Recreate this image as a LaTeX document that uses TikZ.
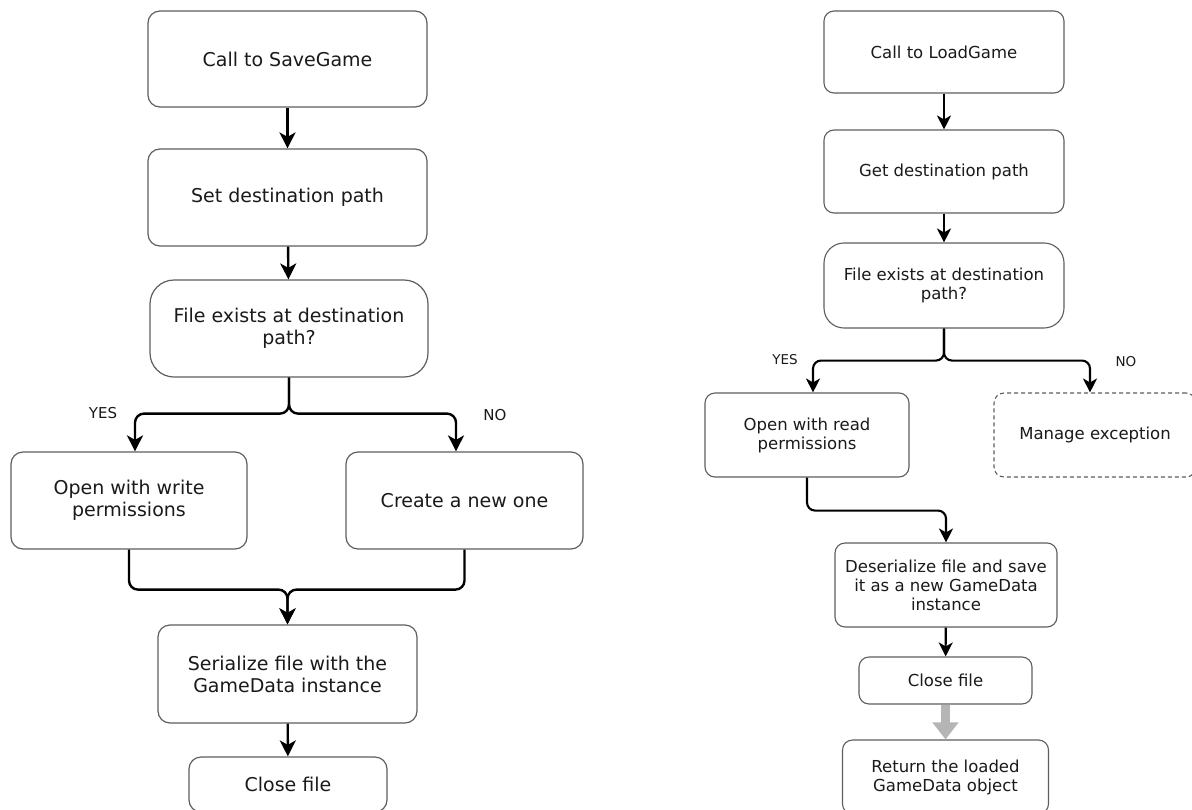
\documentclass[tikz,border=0pt]{standalone}
\usepackage{fontspec}
\setmainfont{DejaVu Sans}
\usetikzlibrary{arrows.meta}
\definecolor{boxline}{HTML}{5E5E5E}
\definecolor{txt}{HTML}{1A1A1A}
\definecolor{fatgray}{HTML}{B5B5B5}
\tikzset{
  bigbox/.style={draw=boxline, line width=1.2pt, rectangle, rounded corners=12pt,
    inner sep=0pt, align=center, text=txt,
    font=\fontsize{19}{22}\selectfont},
  smallbox/.style={draw=boxline, line width=1.1pt, rectangle, rounded corners=10pt,
    inner sep=0pt, align=center, text=txt,
    font=\fontsize{16.5}{19}\selectfont},
  bigarr/.style={draw=black, line width=2.4pt, rounded corners=9pt,
    -{Stealth[length=16pt,width=16pt,inset=4.5pt]}},
  smallarr/.style={draw=black, line width=2.1pt, rounded corners=8pt,
    -{Stealth[length=14pt,width=14pt,inset=4pt]}},
  biglabel/.style={text=txt, inner sep=0pt, font=\fontsize{15}{17}\selectfont},
  smalllabel/.style={text=txt, inner sep=0pt, font=\fontsize{13.5}{15}\selectfont},
}
\begin{document}
\begin{tikzpicture}[x=1pt, y=-1pt]
\useasboundingbox (0,0) rectangle (1192,809);
\clip (0,0) rectangle (1192,809);
\fill[white] (0,0) rectangle (1192,809);

% ---------- SaveGame flow ----------
\node[bigbox, minimum width=279pt, minimum height=96pt] (s1) at (287.5,59) {Call to SaveGame};
\node[bigbox, minimum width=279pt, minimum height=97pt] (s2) at (287.5,197.5) {Set destination path};
\node[bigbox, rounded corners=24pt, minimum width=278pt, minimum height=97pt] (s3) at (289,328.5) {File exists at destination\\path?};
\node[bigbox, minimum width=236pt, minimum height=97pt] (s4) at (129,500.5) {Open with write\\permissions};
\node[bigbox, minimum width=237pt, minimum height=97pt] (s5) at (464.5,500.5) {Create a new one};
\node[bigbox, minimum width=259pt, minimum height=98pt] (s6) at (287.5,674) {Serialize file with the\\GameData instance};
\node[bigbox, minimum width=198pt, minimum height=55pt] (s7) at (288,784.5) {Close file};

\node[biglabel] (yes1) at (103,413) {YES};
\node[biglabel] (no1) at (495,415) {NO};

\draw[bigarr] (s1) -- (s2);
\draw[bigarr] (s2) -- (s3);
\draw[bigarr] (s3.south) -- ++(0,36) -| ([xshift=6pt]s4.north);
\draw[bigarr] (s3.south) -- ++(0,36) -| ([xshift=-8.5pt]s5.north);
\draw[bigarr] (s4.south) -- ++(0,40) -| (s6.north);
\draw[bigarr] (s5.south) -- ++(0,40) -| (s6.north);
\draw[bigarr] (s6) -- (s7);

% ---------- LoadGame flow ----------
\node[smallbox, minimum width=240pt, minimum height=82pt] (r1) at (944,52) {Call to LoadGame};
\node[smallbox, minimum width=240pt, minimum height=83pt] (r2) at (944,171.5) {Get destination path};
\node[smallbox, rounded corners=20pt, minimum width=240pt, minimum height=85pt] (r3) at (944,285.5) {File exists at destination\\path?};
\node[smallbox, minimum width=204pt, minimum height=84pt] (r4) at (807,435) {Open with read\\permissions};
\node[smallbox, dash pattern=on 4pt off 3pt, minimum width=202pt, minimum height=84pt] (r5) at (1095,435) {Manage exception};
\node[smallbox, minimum width=222pt, minimum height=84pt] (r6) at (946,585) {Deserialize file and save\\it as a new GameData\\instance};
\node[smallbox, minimum width=173pt, minimum height=47pt] (r7) at (945.5,680.5) {Close file};
\node[smallbox, minimum width=206pt, minimum height=74pt] (r8) at (945.5,777) {Return the loaded\\GameData object};

\node[smalllabel] (yes2) at (785,360) {YES};
\node[smalllabel] (no2) at (1126,362) {NO};

\draw[smallarr] (r1) -- (r2);
\draw[smallarr] (r2) -- (r3);
\draw[smallarr] (r3.south) -- ++(0,32) -| ([xshift=6pt]r4.north);
\draw[smallarr] (r3.south) -- ++(0,32) -| ([xshift=-5pt]r5.north);
\draw[smallarr] (r4.south) -- ++(0,33) -| (r6.north);
\draw[smallarr] (r6) -- (r7);
\draw[draw=fatgray, line width=8.5pt, -{Triangle[length=17pt,width=25pt]}] (r7.south) -- (r8.north);
\end{tikzpicture}
\end{document}
